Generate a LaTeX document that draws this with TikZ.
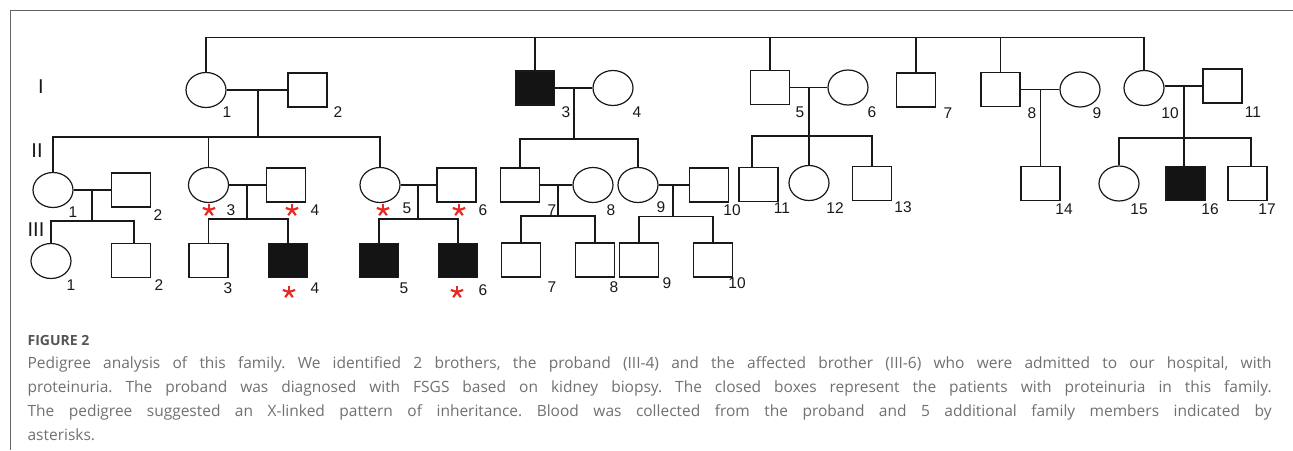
\documentclass[tikz,border=0pt]{standalone}
\usepackage{fontspec}
\setmainfont{Liberation Sans}
\newfontfamily\capfont{Open Sans}
\usetikzlibrary{shapes.geometric}
\definecolor{astred}{RGB}{232,40,35}
\definecolor{capgray}{RGB}{112,112,112}
\definecolor{headgray}{RGB}{85,85,85}
\definecolor{framegray}{RGB}{100,100,100}
\definecolor{ink}{RGB}{25,25,25}
\frenchspacing
\begin{document}
\begin{tikzpicture}[x=1pt,y=-1pt,
  line width=1.2pt, draw=ink,
  male/.style={draw=ink, rectangle, minimum width=39pt, minimum height=34pt, inner sep=0pt},
  female/.style={draw=ink, ellipse, minimum width=40pt, minimum height=35pt, inner sep=0pt},
  aff/.style={fill=black!92},
  num/.style={font=\fontsize{15.5}{15.5}\selectfont, inner sep=0pt, text=ink},
  gen/.style={font=\fontsize{20}{20}\selectfont, inner sep=0pt, text=ink},
  astmark/.style={inner sep=0pt, minimum size=0pt},
  astarm/.style={draw=astred, line width=2.2pt},
  capline/.style={anchor=base west, inner sep=0pt, text=capgray, font=\capfont\fontsize{15.5}{15.5}\selectfont},
]
\useasboundingbox (0,0) rectangle (1293,450);
\draw[framegray, line width=1pt] (1293,10) -- (10,10) -- (10,450);

% generation labels
\node[gen] (gI) at (41,87) {I};
\node[gen] (gII) at (37,151) {II};
\node[gen] (gIII) at (36,230) {III};

% ---------- Generation I ----------
\node[female] (I1) at (206,90) {};
\node[male] (I2) at (307.5,90) {};
\node[male,aff] (I3) at (535,88) {};
\node[female] (I4) at (613,88) {};
\node[male] (I5) at (770,87.5) {};
\node[female] (I6) at (848,87.5) {};
\node[male] (I7) at (916,90) {};
\node[male] (I8) at (1000.5,89.5) {};
\node[female] (I9) at (1080,89.5) {};
\node[female] (I10) at (1144,88) {};
\node[male] (I11) at (1222.5,86) {};

% ---------- Generation II ----------
\node[female] (II1) at (53,190) {};
\node[male] (II2) at (131,190) {};
\node[female] (II3) at (208.5,185) {};
\node[male] (II4) at (286,185) {};
\node[female] (II5) at (380,185) {};
\node[male] (II6) at (456.5,185) {};
\node[male] (II7) at (520,185) {};
\node[female] (II8) at (593,185) {};
\node[female] (II9) at (638,185) {};
\node[male] (II10) at (709,185) {};
\node[male] (II11) at (758.5,184.5) {};
\node[female] (II12) at (809,183) {};
\node[male] (II13) at (872,183.5) {};
\node[male] (II14) at (1040.5,183.5) {};
\node[female] (II15) at (1119,183.5) {};
\node[male,aff] (II16) at (1185.5,183.5) {};
\node[male] (II17) at (1247.5,183.5) {};

% ---------- Generation III ----------
\node[female] (III1) at (51,261) {};
\node[male] (III2) at (131,260.5) {};
\node[male] (III3) at (208.5,260.5) {};
\node[male,aff] (III4) at (288,260.5) {};
\node[male,aff] (III5) at (379,260.5) {};
\node[male,aff] (III6) at (458,260.5) {};
\node[male] (III7) at (521,260) {};
\node[male] (III8) at (595,260) {};
\node[male] (III9) at (639,260) {};
\node[male] (III10) at (713,260) {};

% ---------- connectors ----------
\coordinate (g0) at (0,37.5);
\draw (I1.north) -- (I1.north |- g0) -- (I10.north |- g0) -- (I10.north);
\foreach \n in {I3,I5,I7,I8} \draw (\n.north) -- (\n.north |- g0);

% I1 x I2
\coordinate (m1) at (258,90);
\coordinate (s1) at (0,137);
\draw (I1.east) -- (I2.west);
\draw (m1) -- (m1 |- s1);
\draw (II1.north) -- (II1.north |- s1) -- (II5.north |- s1) -- (II5.north);
\draw (II3.north) -- (II3.north |- s1);

% I3 x I4
\coordinate (m2) at (574,88);
\coordinate (s2) at (0,139);
\draw (I3.east) -- (I4.west);
\draw (m2) -- (m2 |- s2);
\draw (II7.north) -- (II7.north |- s2) -- (II9.north |- s2) -- (II9.north);

% I5 x I6
\coordinate (m3) at (809,87.5);
\coordinate (s3) at (0,136);
\draw (I5.east) -- (I6.west);
\draw (m3) -- (II12.north);
\draw ([xshift=-6.5pt]II11.north) |- (II13.north |- s3) -- (II13.north);

% I8 x I9
\coordinate (m5) at (1040.5,89.5);
\draw (I8.east) -- (I9.west);
\draw (m5) -- (II14.north);

% I10 x I11
\coordinate (m6) at (1184,86);
\coordinate (s6) at (0,138);
\draw (I11.west) -- (I11.west -| I10.east);
\draw (m6) -- (m6 |- II16.north);
\draw (II15.north) |- ([xshift=3.5pt]II17.north |- s6) -- ([xshift=3.5pt]II17.north);

% II1 x II2
\coordinate (m7) at (92,190);
\coordinate (s7) at (0,221);
\draw (II1.east) -- (II2.west);
\draw (m7) -- (m7 |- s7);
\draw (III1.north) |- ([xshift=3pt]III2.north |- s7) -- ([xshift=3pt]III2.north);

% II3 x II4
\coordinate (m8) at (247,185);
\coordinate (s8) at (0,219);
\draw (II3.east) -- (II4.west);
\draw (m8) -- (m8 |- s8);
\draw (III3.north) |- (III4.north |- s8) -- (III4.north);

% II5 x II6
\coordinate (m9) at (418,185);
\coordinate (s9) at (0,219);
\draw (II5.east) -- (II6.west);
\draw (m9) -- (m9 |- s9);
\draw (III5.north) |- (III6.north |- s9) -- (III6.north);

% II7 x II8
\coordinate (m10) at (558,185);
\coordinate (s10) at (0,216);
\draw (II7.east) -- (II8.west);
\draw (m10) -- (m10 |- s10);
\draw (III7.north) |- (III8.north |- s10) -- (III8.north);

% II9 x II10
\coordinate (m11) at (673,185);
\coordinate (s11) at (0,216.5);
\draw (II9.east) -- (II10.west);
\draw (m11) -- (m11 |- s11);
\draw (III9.north) |- (III10.north |- s11) -- (III10.north);

% ---------- number labels ----------
\node[num] (lI1) at (227,112) {1};
\node[num] (lI2) at (338,112) {2};
\node[num] (lI3) at (566,112) {3};
\node[num] (lI4) at (637,112) {4};
\node[num] (lI5) at (800,112) {5};
\node[num] (lI6) at (872,112) {6};
\node[num] (lI7) at (948,113) {7};
\node[num] (lI8) at (1032,113) {8};
\node[num] (lI9) at (1097,113) {9};
\node[num] (lI10) at (1170,113) {10};
\node[num] (lI11) at (1253,112) {11};

\node[num] (lII1) at (73,212) {1};
\node[num] (lII2) at (158,215) {2};
\node[num] (lII3) at (231,210) {3};
\node[num] (lII4) at (315,210) {4};
\node[num] (lII5) at (407,208) {5};
\node[num] (lII6) at (483,210) {6};
\node[num] (lII7) at (552,210) {7};
\node[num] (lII8) at (611,210) {8};
\node[num] (lII9) at (661,207) {9};
\node[num] (lII10) at (732,210) {10};
\node[num] (lII11) at (782,208) {11};
\node[num] (lII12) at (835,208) {12};
\node[num] (lII13) at (903,207) {13};
\node[num] (lII14) at (1064,209) {14};
\node[num] (lII15) at (1139,209) {15};
\node[num] (lII16) at (1210,209) {16};
\node[num] (lII17) at (1267,209) {17};

\node[num] (lIII1) at (71,285) {1};
\node[num] (lIII2) at (159,285) {2};
\node[num] (lIII3) at (228,288) {3};
\node[num] (lIII4) at (315,288) {4};
\node[num] (lIII5) at (404,288) {5};
\node[num] (lIII6) at (483,290) {6};
\node[num] (lIII7) at (552,287) {7};
\node[num] (lIII8) at (614,287) {8};
\node[num] (lIII9) at (667,283) {9};
\node[num] (lIII10) at (737,283) {10};

% ---------- asterisks ----------
\foreach \nm/\px/\py in {aII3/209/210, aII4/292/210, aII5/383/210, aII6/459/210, aIII4/289/292, aIII6/457/292}{
  \node[astmark] (\nm) at (\px,\py) {};
  \foreach \ang in {90,18,162,-54,-126}
    \draw[astarm] (\nm.center) -- ++(\ang:6.5pt);
}

% ---------- caption ----------
\node[anchor=base west, inner sep=0pt, text=headgray, font=\capfont\bfseries\fontsize{14}{14}\selectfont] (fig) at (27,345) {FIGURE 2};
\node[capline] (c1) at (27,368) {\makebox[1244pt][s]{Pedigree analysis of this family. We identified 2 brothers, the proband (III-4) and the affected brother (III-6) who were admitted to our hospital, with}};
\node[capline] (c2) at (27,392) {\makebox[1244pt][s]{proteinuria. The proband was diagnosed with FSGS based on kidney biopsy. The closed boxes represent the patients with proteinuria in this family.}};
\node[capline] (c3) at (27,416) {\makebox[1244pt][s]{The pedigree suggested an X-linked pattern of inheritance. Blood was collected from the proband and 5 additional family members indicated by}};
\node[capline] (c4) at (27,440) {asterisks.};
\end{tikzpicture}
\end{document}
